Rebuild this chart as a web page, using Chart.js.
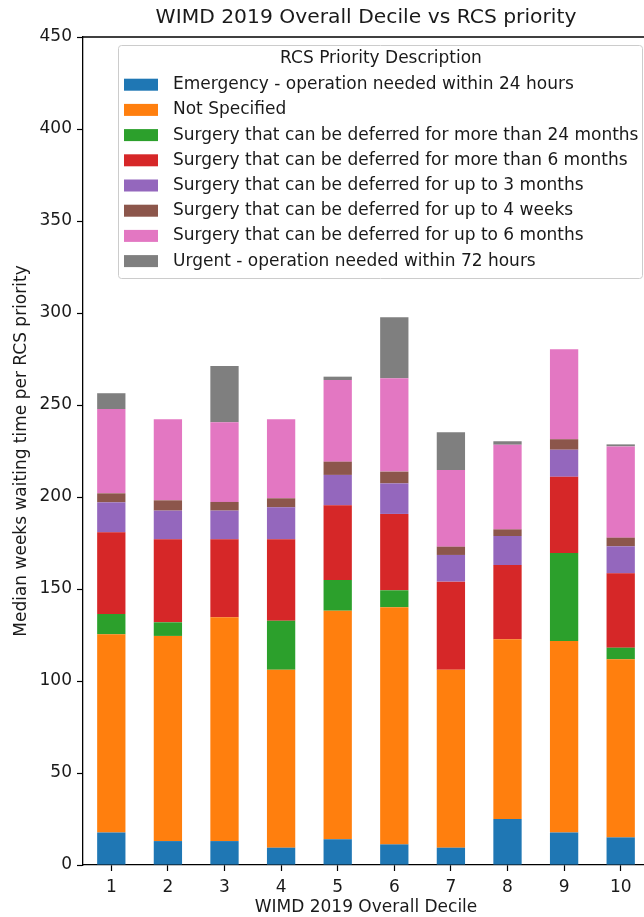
<!DOCTYPE html>
<html lang="en">
<head>
    <meta charset="UTF-8">
    <title>WIMD 2019 Overall Decile vs RCS priority</title>
    <style>
        html, body { margin: 0; padding: 0; background: #fff; overflow: hidden; }
        #wrap { width: 644px; height: 917px; overflow: hidden; }
    </style>
</head>
<body>
    <div id="wrap">
        <canvas id="rcsChart" width="652" height="917"></canvas>
    </div>

    <script src="https://cdn.jsdelivr.net/npm/chart.js"></script>
    <script>
        // Deciles
        const deciles = ['1', '2', '3', '4', '5', '6', '7', '8', '9', '10'];

        // Median weeks waiting, one array per RCS priority
        const emergency24h  = [17.6, 13.0, 13.0,  9.4, 14.0, 11.2,  9.4, 25.0, 17.6, 15.0];
        const notSpecified  = [107.8, 111.5, 121.6, 96.7, 124.2, 128.9, 96.7, 97.7, 104.1, 96.8];
        const deferOver24m  = [11.0,  7.4,  0.0, 26.7, 16.7,  9.2,  0.0,  0.0, 47.9,  6.3];
        const deferOver6m   = [44.4, 45.1, 42.4, 44.2, 40.6, 41.5, 47.9, 40.3, 41.4, 40.4];
        const deferUpTo3m   = [16.3, 15.6, 15.6, 17.4, 16.5, 16.6, 14.5, 15.8, 14.7, 14.7];
        const deferUpTo4w   = [ 4.9,  5.6,  4.7,  4.9,  7.2,  6.4,  4.5,  3.6,  5.7,  4.7];
        const deferUpTo6m   = [45.8, 44.0, 43.3, 42.9, 44.4, 50.7, 41.7, 46.0, 48.9, 49.6];
        const urgent72h     = [ 8.6,  0.0, 30.6,  0.0,  1.8, 33.2, 20.5,  1.9,  0.0,  1.1];

        const yTicks = [0, 50, 100, 150, 200, 250, 300, 350, 400, 450];

        const FONT = 'DejaVu Sans';
        const INK = '#1a1a1a';
        const TITLE = 'WIMD 2019 Overall Decile vs RCS priority';

        const series = [
            ['Emergency - operation needed within 24 hours', emergency24h, '#1f77b4'],
            ['Not Specified', notSpecified, '#ff7f0e'],
            ['Surgery that can be deferred for more than 24 months', deferOver24m, '#2ca02c'],
            ['Surgery that can be deferred for more than 6 months', deferOver6m, '#d62728'],
            ['Surgery that can be deferred for up to 3 months', deferUpTo3m, '#9467bd'],
            ['Surgery that can be deferred for up to 4 weeks', deferUpTo4w, '#8c564b'],
            ['Surgery that can be deferred for up to 6 months', deferUpTo6m, '#e377c2'],
            ['Urgent - operation needed within 72 hours', urgent72h, '#7f7f7f']
        ];

        // title over the plot area, legend inside the plot (matplotlib style), top spine
        const boxLegend = {
            id: 'boxLegend',
            afterDraw(chart) {
                const ctx = chart.ctx;
                const area = chart.chartArea;
                ctx.save();
                ctx.fillStyle = INK;
                ctx.font = '20.3px "' + FONT + '"';
                ctx.textAlign = 'center';
                ctx.textBaseline = 'middle';
                ctx.fillText(TITLE, (area.left + area.right) / 2, 18);

                ctx.strokeStyle = '#000';
                ctx.lineWidth = 1.3;
                ctx.beginPath();
                ctx.moveTo(area.left, area.top);
                ctx.lineTo(area.right, area.top);
                ctx.stroke();

                const x0 = 118, y0 = 45, w = 524, h = 233;
                ctx.fillStyle = 'rgba(255,255,255,0.8)';
                ctx.strokeStyle = '#cccccc';
                ctx.lineWidth = 1;
                ctx.beginPath();
                ctx.roundRect(x0 + 0.5, y0 + 0.5, w, h, 3);
                ctx.fill();
                ctx.stroke();

                ctx.fillStyle = INK;
                ctx.font = '17px "' + FONT + '"';
                ctx.fillText('RCS Priority Description', 381, 59);

                ctx.textAlign = 'left';
                chart.data.datasets.forEach((ds, i) => {
                    const cy = 84.7 + i * 25.2;
                    ctx.fillStyle = ds.backgroundColor;
                    ctx.fillRect(124, cy - 6, 34, 12);
                    ctx.fillStyle = INK;
                    ctx.fillText(ds.label, 173, cy);
                });
                ctx.restore();
            }
        };

        const ctx = document.getElementById('rcsChart').getContext('2d');
        new Chart(ctx, {
            type: 'bar',
            data: {
                labels: deciles,
                datasets: series.map(([label, data, color]) => ({
                    label: label,
                    data: data,
                    backgroundColor: color,
                    borderWidth: 0,
                    barPercentage: 0.5,
                    categoryPercentage: 1.0
                }))
            },
            options: {
                responsive: false,
                animation: false,
                devicePixelRatio: 1,
                layout: { padding: { left: 0, right: 3, top: 37, bottom: 0 } },
                plugins: {
                    legend: { display: false },
                    tooltip: { enabled: false },
                    title: { display: false }
                },
                scales: {
                    x: {
                        stacked: true,
                        grid: { display: true, drawOnChartArea: false, offset: false, tickLength: 6, color: '#000', tickWidth: 1.2 },
                        border: { display: true, color: '#000', width: 1.3 },
                        ticks: { color: INK, font: { family: FONT, size: 17 }, padding: 6, maxRotation: 0 },
                        title: {
                            display: true,
                            text: 'WIMD 2019 Overall Decile',
                            color: INK,
                            font: { family: FONT, size: 17, lineHeight: 1.1 },
                            padding: { top: 0, bottom: 0 }
                        },
                        afterFit(scale) { scale.height = 52; }
                    },
                    y: {
                        stacked: true,
                        min: 0,
                        max: 450,
                        afterBuildTicks(scale) { scale.ticks = yTicks.map(v => ({ value: v })); },
                        grid: { display: true, drawOnChartArea: false, tickLength: 6, color: '#000', tickWidth: 1.2 },
                        border: { display: true, color: '#000', width: 1.3 },
                        ticks: { color: INK, font: { family: FONT, size: 17 }, padding: 5 },
                        title: {
                            display: true,
                            text: 'Median weeks waiting time per RCS priority',
                            color: INK,
                            font: { family: FONT, size: 17, lineHeight: 1.2 },
                            padding: { top: 11, bottom: 0 }
                        },
                        afterFit(scale) { scale.width = 83; }
                    }
                }
            },
            plugins: [boxLegend]
        });
    </script>
</body>
</html>
